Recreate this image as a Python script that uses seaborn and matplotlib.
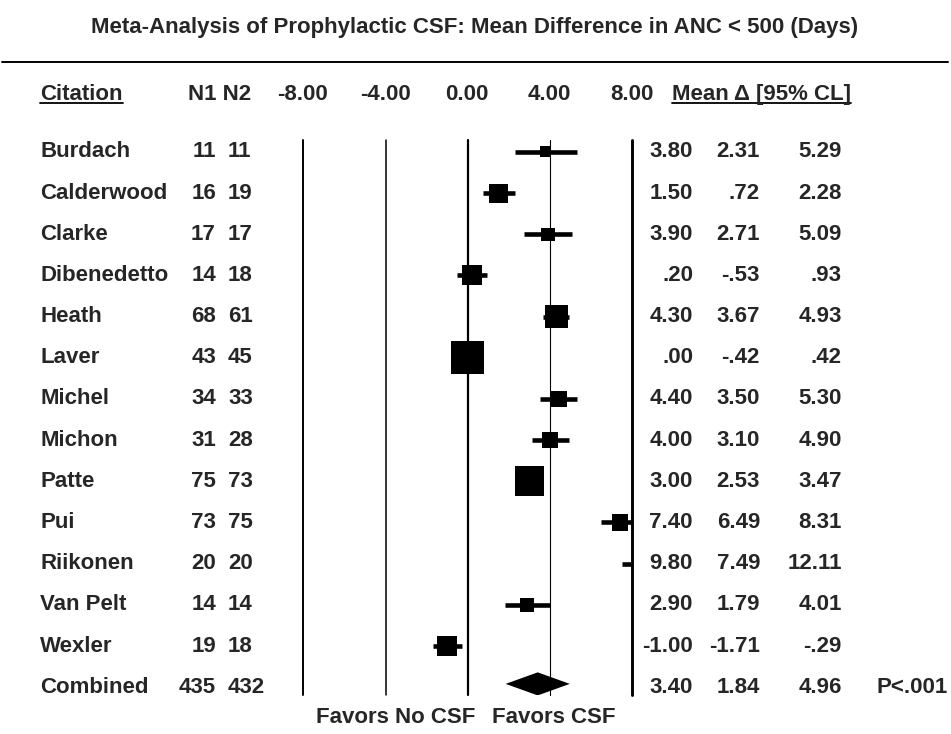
import numpy as np
import pandas as pd
import matplotlib
matplotlib.use("Agg")
import matplotlib.pyplot as plt
import matplotlib.transforms as mtransforms
from matplotlib.lines import Line2D
import seaborn as sns

# ---- data -------------------------------------------------------------
citations = ["Burdach", "Calderwood", "Clarke", "Dibenedetto", "Heath", "Laver",
             "Michel", "Michon", "Patte", "Pui", "Riikonen", "Van Pelt", "Wexler"]
n1 = [11, 16, 17, 14, 68, 43, 34, 31, 75, 73, 20, 14, 19]
n2 = [11, 19, 17, 18, 61, 45, 33, 28, 73, 75, 20, 14, 18]
mean_diff = [3.80, 1.50, 3.90, 0.20, 4.30, 0.00, 4.40, 4.00, 3.00, 7.40, 9.80, 2.90, -1.00]
ci_low = [2.31, 0.72, 2.71, -0.53, 3.67, -0.42, 3.50, 3.10, 2.53, 6.49, 7.49, 1.79, -1.71]
ci_high = [5.29, 2.28, 5.09, 0.93, 4.93, 0.42, 5.30, 4.90, 3.47, 8.31, 12.11, 4.01, -0.29]

combined_label = "Combined"
combined_n = (435, 432)
combined_mean, combined_low, combined_high = 3.40, 1.84, 4.96
combined_p = "P<.001"

axis_ticks = [-8, -4, 0, 4, 8]

title = "Meta-Analysis of Prophylactic CSF: Mean Difference in ANC < 500 (Days)"
left_note, right_note = "Favors No CSF", "Favors CSF"


def fmt(v):
    s = f"{v:.2f}"
    if s.startswith("0."):
        s = s[1:]
    elif s.startswith("-0."):
        s = "-" + s[2:]
    return s


df = pd.DataFrame({"citation": citations, "n1": n1, "n2": n2, "mean": mean_diff,
                   "low": ci_low, "high": ci_high})
df["row"] = np.arange(len(df))
# square side grows with precision (inverse CI half-width)
half = (df["high"] - df["low"]) / 2
side_px = 2.4 + 12.8 / half
df["area"] = (side_px * 0.72) ** 2
combined_row = len(df)

# ---- figure -----------------------------------------------------------
sns.set_theme(style="white")
plt.rcParams["font.family"] = ["Liberation Sans", "DejaVu Sans"]
plt.rcParams["font.weight"] = "bold"

W, H = 951, 734
fig = plt.figure(figsize=(W / 100, H / 100), dpi=100)
fig.patch.set_facecolor("white")

x_left, x_right = 303.3, 632.3
y_top, y_bot = 140, 695
ax = fig.add_axes([x_left / W, 1 - y_bot / H, (x_right - x_left) / W, (y_bot - y_top) / H])

# confidence intervals and study squares
ax.hlines(df["row"], df["low"], df["high"], color="black", lw=3.3, zorder=2)
amin, amax = df["area"].min(), df["area"].max()
sns.scatterplot(data=df, x="mean", y="row", size="area", sizes=(amin, amax),
                size_norm=(amin, amax), marker="s", color="black", linewidth=0,
                legend=False, ax=ax, zorder=3)
ax.set_xlim(-8, 8)
ax.set_ylim(13.19, -0.29)
ax.axis("off")

# reference lines
lws = {-8: 1.4, -4: 1.1, 0: 1.6, 4: 0.8, 8: 2.1}
for t in axis_ticks:
    ax.axvline(t, color="black", lw=lws[t], zorder=1, clip_on=False)

# pooled estimate diamond
dy = 0.28
yc = combined_row - 0.08
ax.fill([combined_low, combined_mean, combined_high, combined_mean],
        [yc, yc - dy, yc, yc + dy], color="black", lw=0, zorder=3)

# ---- text columns -----------------------------------------------------
fs = 16
trans = mtransforms.blended_transform_factory(fig.transFigure, ax.transData)
head_y = (95 - 152) / 41.15
foot_y = (717 - 152) / 41.15


def fx(px):
    return px / W


def put(px, y, s, ha="left", size=fs):
    return fig.text(fx(px), y, s, ha=ha, va="center", fontsize=size,
                    fontweight="bold", transform=trans)


t_cit = put(40, head_y, "Citation")
put(188, head_y, "N1 N2")
for t in axis_ticks:
    put(468.3 + t * 20.55 - 1, head_y, f"{t:.2f}", ha="center")
t_mean = put(672, head_y, "Mean \u0394 [95% CL]")

for i, r in df.iterrows():
    put(40, r["row"], r["citation"])
    put(216, r["row"], str(r["n1"]), ha="right")
    put(228, r["row"], str(r["n2"]))
    put(693, r["row"], fmt(r["mean"]), ha="right")
    put(760, r["row"], fmt(r["low"]), ha="right")
    put(842, r["row"], fmt(r["high"]), ha="right")

put(40, combined_row, combined_label)
put(216, combined_row, str(combined_n[0]), ha="right")
put(228, combined_row, str(combined_n[1]))
put(693, combined_row, fmt(combined_mean), ha="right")
put(760, combined_row, fmt(combined_low), ha="right")
put(842, combined_row, fmt(combined_high), ha="right")
put(876, combined_row, combined_p)

put(475, foot_y, left_note, ha="right")
put(492, foot_y, right_note)

fig.text(475 / W, 1 - 28 / H, title, ha="center", va="center", fontsize=16,
         fontweight="bold")
fig.add_artist(Line2D([2 / W, 948 / W], [1 - 62 / H] * 2, color="black", lw=1.4))

# underline the header captions
fig.canvas.draw()
renderer = fig.canvas.get_renderer()
for t in (t_cit, t_mean):
    bb = t.get_window_extent(renderer)
    fig.add_artist(Line2D([bb.x0 / W, bb.x1 / W], [1 - 103 / H] * 2,
                          color="black", lw=1.3))

fig.savefig("out.png", dpi=100, facecolor="white")
